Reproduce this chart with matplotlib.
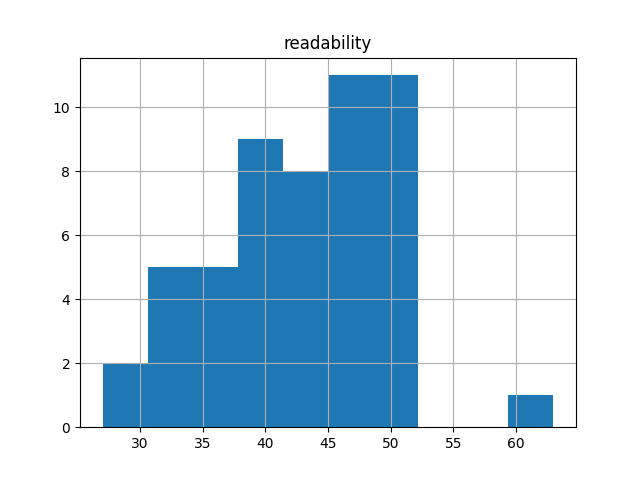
import matplotlib
matplotlib.use("Agg")
import matplotlib.pyplot as plt
import pandas as pd

# readability scores
readability = [
    27.0, 29.4,
    31.2, 32.0, 32.8, 33.5, 34.0,
    34.6, 35.3, 36.1, 36.8, 37.5,
    38.0, 38.4, 38.9, 39.3, 39.7, 40.1, 40.5, 40.9, 41.2,
    41.6, 42.0, 42.5, 43.0, 43.4, 43.8, 44.3, 44.7,
    45.1, 45.4, 45.8, 46.1, 46.5, 46.8, 47.2, 47.5, 47.8, 48.1, 48.4,
    48.7, 49.0, 49.3, 49.6, 50.0, 50.3, 50.6, 50.9, 51.2, 51.5, 51.9,
    63.0,
]

df = pd.DataFrame({"readability": readability})
df.hist(figsize=(6.4, 4.8))
plt.savefig("out.png", dpi=100)
